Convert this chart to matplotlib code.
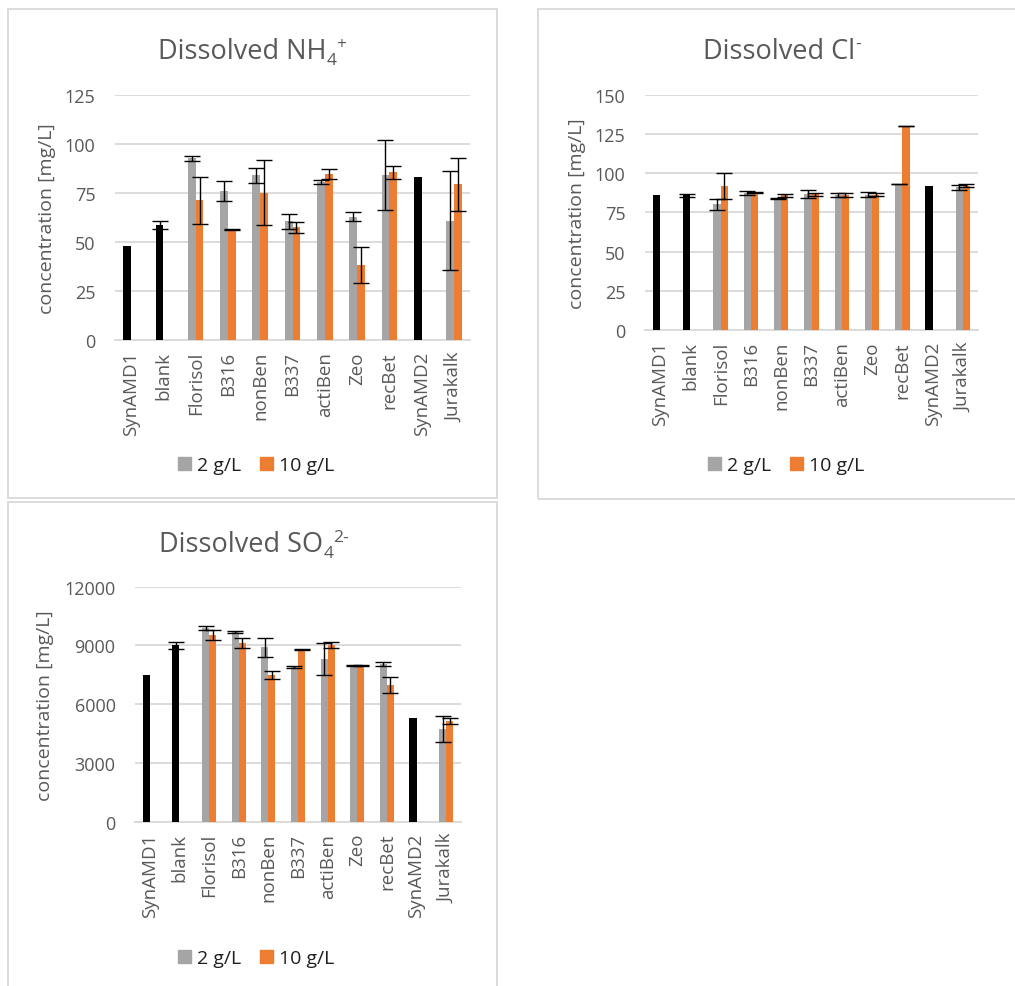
import numpy as np
import matplotlib
matplotlib.use("Agg")
import matplotlib.pyplot as plt
from matplotlib.patches import Rectangle, Patch

plt.rcParams['font.family'] = ['Open Sans', 'DejaVu Sans']

W, H = 1015, 987

categories = ['SynAMD1', 'blank', 'Florisol', 'B316', 'nonBen', 'B337',
              'actiBen', 'Zeo', 'recBet', 'SynAMD2', 'Jurakalk']
controls = ['SynAMD1', 'blank', 'SynAMD2']
series_names = ['2 g/L', '10 g/L']
nan = np.nan

# NH4+ [mg/L]
nh4_2g = [48.0, 58.6, 92.5, 75.9, 83.9, 60.5, 80.3, 62.8, 83.9, 82.9, 60.7]
nh4_2g_err = [nan, 2.2, 1.5, 5.3, 4.0, 3.7, 1.0, 2.3, 17.9, nan, 25.2]
nh4_10g = [nan, nan, 71.2, 56.2, 75.1, 57.4, 84.6, 38.2, 85.4, nan, 79.4]
nh4_10g_err = [nan, nan, 12.0, 0.3, 16.4, 2.7, 2.5, 9.4, 3.5, nan, 13.5]

# Cl- [mg/L]
cl_2g = [85.8, 85.8, 80.1, 87.3, 83.9, 86.7, 86.0, 86.3, 93.0, 91.6, 90.9]
cl_2g_err = [nan, 1.0, 3.4, 1.0, 0.3, 2.8, 1.2, 1.6, 0.2, nan, 1.7]
cl_10g = [nan, nan, 91.8, 87.5, 85.8, 86.5, 86.0, 86.3, 130.0, nan, 92.0]
cl_10g_err = [nan, nan, 8.0, 0.4, 1.0, 0.8, 1.2, 0.8, 0.2, nan, 1.0]

# SO4 2- [mg/L]
so4_2g = [7490, 9000, 9880, 9690, 8900, 7880, 8300, 7990, 8040, 5280, 4730]
so4_2g_err = [nan, 200, 100, 50, 500, 50, 800, 30, 100, nan, 650]
so4_10g = [nan, nan, 9530, 9140, 7490, 8780, 9020, 7990, 6990, nan, 5130]
so4_10g_err = [nan, nan, 260, 265, 200, 20, 150, 30, 410, nan, 150]

GRAY = '#A5A5A5'
ORANGE = '#ED7D31'
TXT = '#595959'
GRID = '#D9D9D9'


def fx(px):
    return px / W


def fy(py):
    return 1 - py / H


def draw_title(fig, cx, base_y, parts, size=19.5, small=12.5):
    # parts: list of (text, kind) with kind 'n', 'sub' or 'sup'
    renderer = fig.canvas.get_renderer()
    offsets = {'n': 0, 'sub': 6, 'sup': -10}
    texts = []
    x = 0
    for s, kind in parts:
        fs = size if kind == 'n' else small
        t = fig.text(0, fy(base_y + offsets[kind]), s, fontsize=fs,
                     color=TXT, ha='left', va='baseline')
        wpx = t.get_window_extent(renderer).width
        texts.append((t, x))
        x += wpx
    start = cx - x / 2
    for t, off in texts:
        t.set_x(fx(start + off))


fig = plt.figure(figsize=(W / 100, H / 100), dpi=100)

# panel frames (pixel boxes: left, top, right, bottom)
frames = [(8, 10, 497, 499), (538, 10, 1040, 500), (8, 503, 497, 1000)]
for l, t, r, b in frames:
    fig.add_artist(Rectangle((fx(l), fy(b)), fx(r - l), (b - t) / H,
                             transform=fig.transFigure, fill=False,
                             edgecolor=GRID, linewidth=1.3))

panels = [
    dict(box=(115, 95.7, 470, 341), ylim=125, step=25,
         title=[('Dissolved NH', 'n'), ('4', 'sub'), ('+', 'sup')],
         title_x=252, ylab_x=47, leg_x=256, top=10,
         v2=nh4_2g, e2=nh4_2g_err, v10=nh4_10g, e10=nh4_10g_err),
    dict(box=(645, 95.7, 978, 331), ylim=150, step=25,
         title=[('Dissolved Cl', 'n'), ('-', 'sup')],
         title_x=782, ylab_x=577, leg_x=786, top=10,
         v2=cl_2g, e2=cl_2g_err, v10=cl_10g, e10=cl_10g_err),
    dict(box=(135, 587.7, 461, 822.7), ylim=12000, step=3000,
         title=[('Dissolved SO', 'n'), ('4', 'sub'), ('2-', 'sup')],
         title_x=254, ylab_x=45, leg_x=256, top=503,
         v2=so4_2g, e2=so4_2g_err, v10=so4_10g, e10=so4_10g_err),
]

x = np.arange(len(categories))
w = 0.24
err_kw = dict(ecolor='black', elinewidth=1.0, capsize=6.0, capthick=1.0)

for p in panels:
    l, t, r, b = p['box']
    ax = fig.add_axes([fx(l), fy(b), (r - l) / W, (b - t) / H])
    colors2 = ['black' if c in controls else GRAY for c in categories]
    ax.bar(x - w / 2, p['v2'], w, color=colors2, yerr=p['e2'],
           error_kw=err_kw, zorder=3)
    ax.bar(x + w / 2, p['v10'], w, color=ORANGE, yerr=p['e10'],
           error_kw=err_kw, zorder=3)

    ax.set_xlim(-0.5, len(categories) - 0.5)
    ax.set_ylim(0, p['ylim'])
    ax.set_yticks(np.arange(0, p['ylim'] + 1, p['step']))
    ax.yaxis.grid(True, color=GRID, linewidth=1.3)
    ax.set_axisbelow(True)
    for s in ['top', 'right', 'left']:
        ax.spines[s].set_visible(False)
    ax.spines['bottom'].set_color(GRID)
    ax.spines['bottom'].set_linewidth(1.3)
    ax.tick_params(length=0)
    ax.tick_params(axis='y', labelsize=13, labelcolor=TXT, pad=14)
    ax.set_xticks(x)
    ax.set_xticklabels(categories, rotation=90, fontsize=13.5, color=TXT)
    ax.tick_params(axis='x', pad=8)

    fig.text(fx(p['ylab_x']), fy((t + b) / 2), 'concentration [mg/L]',
             rotation=90, ha='center', va='center', fontsize=14, color=TXT)
    draw_title(fig, p['title_x'], p['top'] + 49, p['title'])

    handles = [Patch(color=GRAY), Patch(color=ORANGE)]
    ax.legend(handles, series_names, loc='center',
              bbox_to_anchor=(fx(p['leg_x']), fy(p['top'] + 456)),
              bbox_transform=fig.transFigure, ncol=2, frameon=False,
              fontsize=14, handlelength=0.67, handleheight=0.67,
              handletextpad=0.3, columnspacing=1.0, labelcolor='#1f1f1f')

fig.savefig('out.png', dpi=100)
